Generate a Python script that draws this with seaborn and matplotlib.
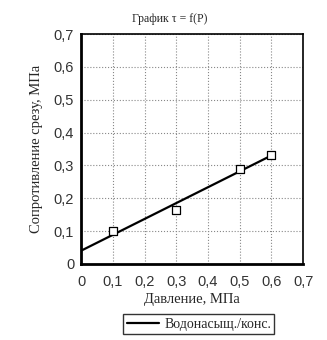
import matplotlib
matplotlib.use("Agg")
import matplotlib.pyplot as plt
import seaborn as sns
import numpy as np

# Data
pressure = [0.1, 0.3, 0.5, 0.6]
shear = [0.10, 0.165, 0.29, 0.33]
trend_x = [0.0, 0.6]
trend_y = [0.04, 0.33]
ticks = [0, 0.1, 0.2, 0.3, 0.4, 0.5, 0.6, 0.7]
tick_labels = ["0", "0,1", "0,2", "0,3", "0,4", "0,5", "0,6", "0,7"]

sns.set_style("white")
plt.rcParams['font.family'] = ['Liberation Serif', 'DejaVu Serif']

fig = plt.figure(figsize=(3.27, 3.40), dpi=100)
ax = fig.add_axes([0.248, 0.224, 0.679, 0.676])

sns.lineplot(x=trend_x, y=trend_y, ax=ax, color="black", linewidth=1.6,
             label="Водонасыщ./конс.", zorder=3)
sns.scatterplot(x=pressure, y=shear, ax=ax, marker="s", s=40,
                facecolor="white", edgecolor="black", linewidth=0.9, zorder=4,
                legend=False)

ax.set_xlim(0, 0.7)
ax.set_ylim(0, 0.7)
ax.set_xticks(ticks)
ax.set_yticks(ticks)
ax.set_xticklabels(tick_labels, family="Liberation Sans", fontsize=10.5, color="#333333")
ax.set_yticklabels(tick_labels, family="Liberation Sans", fontsize=10.5, color="#333333")
ax.grid(True, color="#888888", linestyle=":", linewidth=0.8)
ax.tick_params(direction="out", length=3, width=1, pad=2)
ax.tick_params(axis="x", pad=5)
for name, sp in ax.spines.items():
    sp.set_color("black")
    sp.set_linewidth(1.2)
ax.spines["left"].set_linewidth(2.0)
ax.spines["bottom"].set_linewidth(2.0)

ax.set_xlabel("Давление, МПа", fontsize=10.5, labelpad=3)
ax.set_ylabel("Сопротивление срезу, МПа", fontsize=10.5, labelpad=8)
fig.text(0.52, 0.945, "График τ = f(P)", ha="center", va="center", fontsize=8.5)

leg = ax.legend(loc="upper center", bbox_to_anchor=(0.53, -0.19), frameon=True,
                fancybox=False, edgecolor="black", fontsize=10,
                handlelength=2.3, borderpad=0.25, handletextpad=0.4)
leg.get_frame().set_linewidth(1.0)

fig.savefig("out.png", dpi=100)
